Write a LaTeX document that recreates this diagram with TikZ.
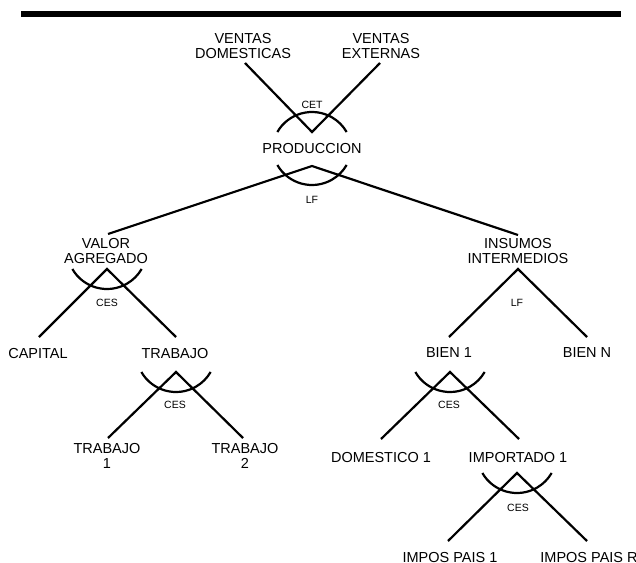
\documentclass[tikz,border=0pt]{standalone}
\usepackage{fontspec}
\setmainfont{Liberation Sans}
\tikzset{
  lbl/.style={inner sep=0pt, anchor=north, align=center, font=\fontsize{14.5}{15}\selectfont},
  sml/.style={inner sep=0pt, font=\fontsize{10.5}{11}\selectfont},
  link/.style={line width=2.2pt},
  cupline/.style={line width=2.2pt},
  bar/.style={line width=5.5pt}
}
\begin{document}
\begin{tikzpicture}[x=1pt,y=-1pt]
\useasboundingbox (0,0) rectangle (636,562);
% top bar
\coordinate (barL) at (21,14);
\coordinate (barR) at (621,14);
\draw[bar] (barL) -- (barR);

% text nodes
\node[lbl] (vd) at (243,32.8) {VENTAS\\DOMESTICAS};
\node[lbl] (ve) at (381,32.8) {VENTAS\\EXTERNAS};
\node[lbl] (prod) at (312,142.8) {PRODUCCION};
\node[lbl] (va) at (106,237.8) {VALOR\\AGREGADO};
\node[lbl] (ii) at (518,238.5) {INSUMOS\\INTERMEDIOS};
\node[lbl] (cap) at (38,347.8) {CAPITAL};
\node[lbl] (trab) at (175,347.8) {TRABAJO};
\node[lbl] (b1) at (449,347.8) {BIEN 1};
\node[lbl] (bn) at (587,347.8) {BIEN N};
\node[lbl] (t1) at (107,442.8) {TRABAJO\\1};
\node[lbl] (t2) at (245,442.8) {TRABAJO\\2};
\node[lbl] (d1) at (381,451.8) {DOMESTICO 1};
\node[lbl] (i1) at (518,451.8) {IMPORTADO 1};
\node[lbl] (ip1) at (450,552) {IMPOS PAIS 1};
\node[lbl] (ipr) at (589,552) {IMPOS PAIS R};

% small labels
\node[sml] (cet) at (312,105) {CET};
\node[sml] (lf1) at (312,200) {LF};
\node[sml] (ces1) at (107,303) {CES};
\node[sml] (ces2) at (175,405) {CES};
\node[sml] (lf2) at (517,303) {LF};
\node[sml] (ces3) at (449,405) {CES};
\node[sml] (ces4) at (518,508) {CES};

% connector points
\coordinate (vdE) at (245,63);
\coordinate (veE) at (380,63);
\coordinate (prodT) at (312,132);
\coordinate (prodB) at (312,166);
\coordinate (vaT) at (108,234);
\coordinate (iiT) at (518,235);
\coordinate (vaB) at (107,269);
\coordinate (capT) at (39,337);
\coordinate (trabT) at (176,337);
\coordinate (trabB) at (176,372);
\coordinate (t1T) at (108,438);
\coordinate (t2T) at (243,438);
\coordinate (iiB) at (518,269);
\coordinate (b1T) at (449,337);
\coordinate (bnT) at (587,337);
\coordinate (b1B) at (450,372);
\coordinate (d1T) at (381,439);
\coordinate (i1T) at (519,439);
\coordinate (i1B) at (517,473);
\coordinate (ip1T) at (448,541);
\coordinate (iprT) at (587,541);

% connectors
\draw[link] (vdE) -- (prodT) -- (veE);
\draw[link] (vaT) -- (prodB) -- (iiT);
\draw[link] (capT) -- (vaB) -- (trabT);
\draw[link] (t1T) -- (trabB) -- (t2T);
\draw[link] (b1T) -- (iiB) -- (bnT);
\draw[link] (d1T) -- (b1B) -- (i1T);
\draw[link] (ip1T) -- (i1B) -- (iprT);

% arcs
\draw[cupline] ([xshift=-34.64pt]prodT) arc[start angle=150, end angle=30, radius=40pt];
\draw[cupline] ([xshift=-34.64pt,yshift=1pt]prodB) arc[start angle=210, end angle=330, radius=40pt];
\draw[cupline] ([xshift=-34.64pt]vaB) arc[start angle=210, end angle=330, radius=40pt];
\draw[cupline] ([xshift=-34.64pt]trabB) arc[start angle=210, end angle=330, radius=40pt];
\draw[cupline] ([xshift=-34.64pt]b1B) arc[start angle=210, end angle=330, radius=40pt];
\draw[cupline] ([xshift=-34.64pt]i1B) arc[start angle=210, end angle=330, radius=40pt];
\end{tikzpicture}
\end{document}
